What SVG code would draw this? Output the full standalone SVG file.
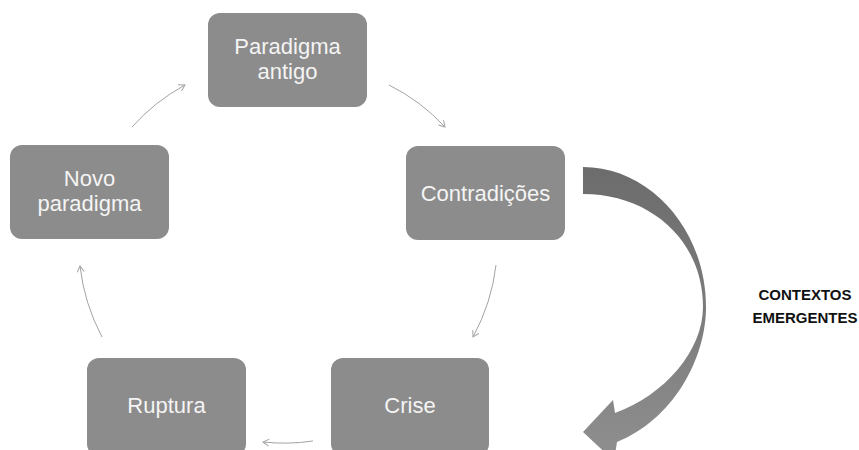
<svg xmlns="http://www.w3.org/2000/svg" width="859" height="450" viewBox="0 0 859 450">
  <defs>
    <style>
      .box { fill: #8c8c8c; }
      .lbl { fill: #f4f4f4; font-family: "Liberation Sans", Arial, sans-serif; font-size: 22px; text-anchor: middle; }
      .link { fill: none; stroke: #a3a3a3; stroke-width: 1; marker-end: url(#tip); }
      .note { fill: #111111; font-family: "Liberation Sans", Arial, sans-serif; font-size: 15px; font-weight: bold; text-anchor: middle; }
    </style>
    <marker id="tip" viewBox="0 0 8 8" refX="7" refY="4" markerWidth="8" markerHeight="8" markerUnits="userSpaceOnUse" orient="auto">
      <path d="M1,0.5 L7,4 L1,7.5" fill="none" stroke="#a3a3a3" stroke-width="1"/>
    </marker>
    <linearGradient id="bandShade" x1="0" y1="167" x2="0" y2="450" gradientUnits="userSpaceOnUse">
      <stop offset="0" stop-color="#6c6c6c"/>
      <stop offset="0.5" stop-color="#7b7b7b"/>
      <stop offset="1" stop-color="#8e8e8e"/>
    </linearGradient>
  </defs>

  <rect width="859" height="450" fill="#ffffff"/>

  <!-- cycle connectors -->
  <g id="connectors">
    <path class="link" d="M389,85 Q421,101 445,127"/>
    <path class="link" d="M496,265 Q491.6,302.8 473,337"/>
    <path class="link" d="M313,441 Q288,444.7 263,442"/>
    <path class="link" d="M102,337 Q84.2,303.3 80,266"/>
    <path class="link" d="M132,127 Q154.6,101.6 185,85"/>
  </g>

  <g id="paradigma-antigo">
    <rect class="box" x="208" y="13" width="159" height="94" rx="12"/>
    <text class="lbl" x="287.5" y="54">Paradigma</text>
    <text class="lbl" x="287.5" y="79">antigo</text>
  </g>

  <g id="contradicoes">
    <rect class="box" x="406" y="146" width="159" height="94" rx="12"/>
    <text class="lbl" x="485.5" y="201">Contradições</text>
  </g>

  <g id="crise">
    <rect class="box" x="331" y="358" width="158" height="98" rx="12"/>
    <text class="lbl" x="410" y="413">Crise</text>
  </g>

  <g id="ruptura">
    <rect class="box" x="87" y="358" width="159" height="98" rx="12"/>
    <text class="lbl" x="166.5" y="413">Ruptura</text>
  </g>

  <g id="novo-paradigma">
    <rect class="box" x="10" y="145" width="159" height="94" rx="12"/>
    <text class="lbl" x="89.5" y="186">Novo</text>
    <text class="lbl" x="89.5" y="211">paradigma</text>
  </g>

  <!-- curved block arrow from Contradições down to Crise -->
  <g id="contextos-arrow">
    <path fill="url(#bandShade)" d="M583,167 C650,167 706,230 706,307 C706,360 672,420 617,442 L614,461 L583,432 L613,400 L615,413 C665,395 703,350 703,307 C703,240 650,194 583,194 Z"/>
  </g>

  <g id="contextos-emergentes">
    <text class="note" x="805" y="300">CONTEXTOS</text>
    <text class="note" x="805" y="323">EMERGENTES</text>
  </g>
</svg>
